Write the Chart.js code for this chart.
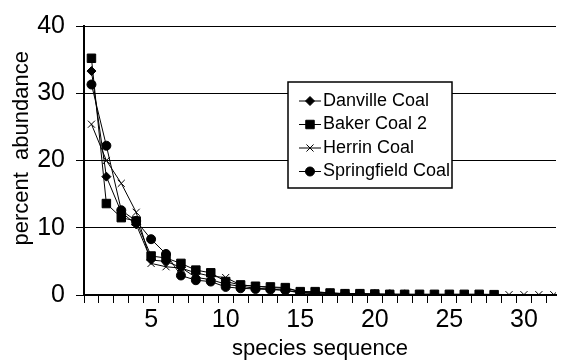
<!DOCTYPE html>
<html>
<head>
<meta charset="utf-8">
<script src="https://cdn.jsdelivr.net/npm/chart.js@4.4.1/dist/chart.umd.min.js"></script>
<style>
  html, body { margin: 0; padding: 0; background: #fff; }
</style>
</head>
<body>
<canvas id="abundance_chart" width="563" height="362"></canvas>
<script>
// values, ranked species per coal
var danville = [33.3, 17.6, 12.3, 10.5, 5.2, 5.0, 4.1, 2.6, 2.3, 1.6, 1.3, 1.0, 0.9, 0.7, 0.4, 0.3, 0.25, 0.2, 0.15, 0.1, 0.1, 0.1, 0.05, 0.05, 0.05];
var baker = [35.2, 13.6, 11.5, 11.0, 5.8, 5.5, 4.7, 3.7, 3.3, 2.0, 1.5, 1.3, 1.2, 1.1, 0.5, 0.5, 0.3, 0.2, 0.2, 0.15, 0.1, 0.1, 0.1, 0.1, 0.1, 0.1, 0.1, 0.05];
var herrin = [25.4, 20.0, 16.6, 12.3, 4.7, 4.2, 4.0, 3.3, 2.8, 2.6, 1.5, 1.3, 1.1, 1.0, 0.5, 0.4, 0.3, 0.2, 0.2, 0.15, 0.1, 0.1, 0.1, 0.1, 0.1, 0.1, 0.1, 0.1, 0.05, 0.05, 0.05, 0.05, 0.05];
var springfield = [31.3, 22.2, 12.6, 11.0, 8.3, 6.1, 2.9, 2.2, 2.0, 1.2, 1.0, 0.9, 0.8, 0.7, 0.3, 0.2, 0.15, 0.1, 0.1, 0.05, 0.05];

var seriesNames = ['Danville Coal', 'Baker Coal 2', 'Herrin Coal', 'Springfield Coal'];
var yTicks = [0, 10, 20, 30, 40];
var xLabels = [5, 10, 15, 20, 25, 30];

var FONT = 'Liberation Sans, Arial, sans-serif';

function toPoints(arr) {
    return arr.map(function (v, i) { return { x: i + 1, y: v }; });
}

function series(label, values, style, radius) {
    return {
        label: label,
        data: toPoints(values),
        borderColor: '#000',
        borderWidth: 1,
        backgroundColor: '#000',
        pointStyle: style,
        pointRadius: radius,
        pointBorderColor: '#000',
        pointBackgroundColor: '#000',
        pointBorderWidth: 1,
        tension: 0,
        fill: false
    };
}

// legend drawn as a white box sitting inside the plot
var boxLegend = {
    id: 'boxLegend',
    afterDraw: function (chart) {
        var ctx = chart.ctx;
        var left = 288, top = 82, w = 164, h = 106;
        ctx.save();
        ctx.fillStyle = '#fff';
        ctx.fillRect(left, top, w, h);
        ctx.strokeStyle = '#000';
        ctx.lineWidth = 1.5;
        ctx.strokeRect(left, top, w, h);
        ctx.font = '18px ' + FONT;
        ctx.textBaseline = 'middle';
        ctx.textAlign = 'left';
        chart.data.datasets.forEach(function (ds, i) {
            var y = 101 + i * 23.5;
            ctx.strokeStyle = '#000';
            ctx.fillStyle = '#000';
            ctx.lineWidth = 1;
            ctx.beginPath();
            ctx.moveTo(299, y);
            ctx.lineTo(321, y);
            ctx.stroke();
            Chart.helpers.drawPoint(ctx, {
                pointStyle: ds.pointStyle,
                radius: ds.pointRadius,
                borderWidth: 1
            }, 310, y);
            ctx.fillStyle = '#000';
            ctx.fillText(ds.label, 323, y);
        });
        ctx.restore();
    }
};

new Chart(document.getElementById('abundance_chart'), {
    type: 'line',
    data: {
        datasets: [
            series(seriesNames[0], danville, 'rectRot', 4.5),
            series(seriesNames[1], baker, 'rect', 6),
            series(seriesNames[2], herrin, 'crossRot', 5),
            series(seriesNames[3], springfield, 'circle', 4.5)
        ]
    },
    options: {
        responsive: false,
        animation: false,
        devicePixelRatio: 1,
        layout: { padding: { top: 23, right: 0, bottom: 0, left: 0 } },
        plugins: {
            legend: { display: false },
            tooltip: { enabled: false }
        },
        scales: {
            x: {
                type: 'linear',
                min: 0.5,
                max: 32.15,
                afterBuildTicks: function (scale) {
                    var t = [];
                    for (var v = 1; v <= 64; v++) t.push({ value: v / 2 });
                    scale.ticks = t;
                },
                afterFit: function (scale) { scale.height = 67; },
                grid: {
                    drawOnChartArea: false,
                    tickLength: 8,
                    tickWidth: 1,
                    tickColor: function (c) {
                        return c.tick && c.tick.value % 1 !== 0 ? '#000' : 'rgba(0,0,0,0)';
                    }
                },
                border: { color: '#000', width: 2 },
                ticks: {
                    autoSkip: false,
                    maxRotation: 0,
                    padding: 2,
                    color: '#000',
                    font: { family: FONT, size: 25 },
                    callback: function (v) {
                        return xLabels.indexOf(v) >= 0 ? String(v) : '';
                    }
                },
                title: {
                    display: true,
                    text: 'species sequence',
                    color: '#000',
                    font: { family: FONT, size: 22 },
                    padding: { top: 0, bottom: 0 }
                }
            },
            y: {
                min: 0,
                max: 40,
                afterFit: function (scale) { scale.width = 84; },
                afterBuildTicks: function (scale) {
                    scale.ticks = yTicks.map(function (v) { return { value: v }; });
                },
                grid: { color: '#000', lineWidth: 1, tickLength: 8 },
                border: { color: '#000', width: 2 },
                ticks: {
                    padding: 11,
                    color: '#000',
                    font: { family: FONT, size: 25 }
                },
                title: {
                    display: true,
                    // leading spaces push the centred title up, as in the figure
                    text: '    percent  abundance',
                    color: '#000',
                    font: { family: FONT, size: 22 },
                    padding: { top: 9, bottom: 0 }
                }
            }
        }
    },
    plugins: [boxLegend]
});
</script>
</body>
</html>
